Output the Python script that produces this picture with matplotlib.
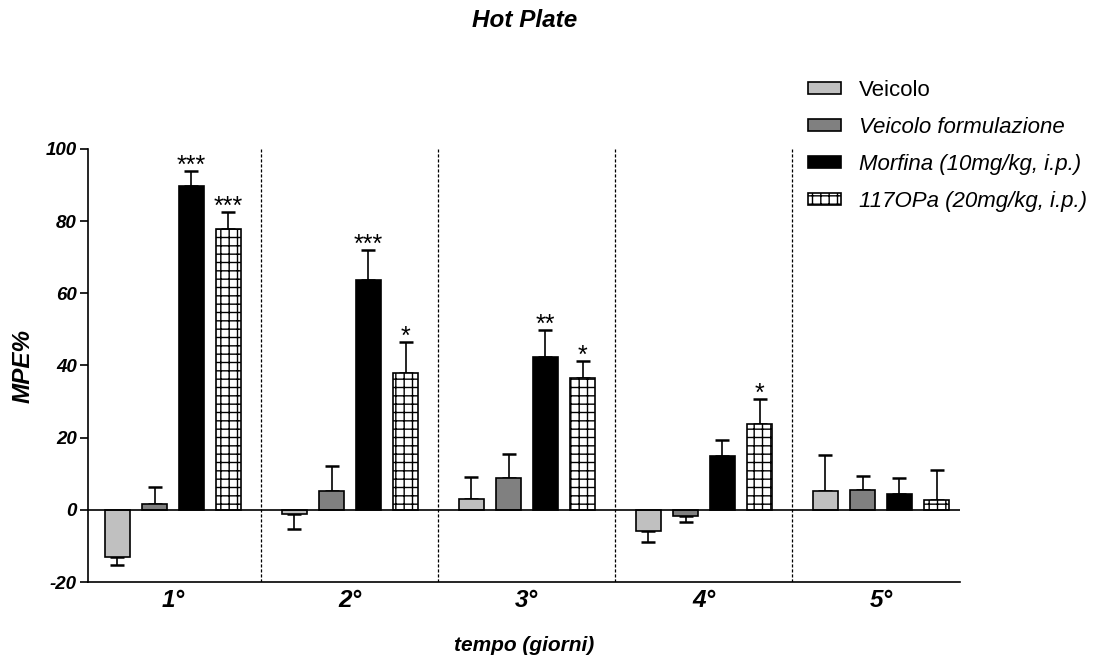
import matplotlib
matplotlib.use("Agg")
import matplotlib.pyplot as plt
import numpy as np

plt.rcParams['font.family'] = ['Liberation Sans', 'DejaVu Sans']
plt.rcParams['hatch.linewidth'] = 1.0
plt.rcParams['axes.unicode_minus'] = False

groups = ["1°", "2°", "3°", "4°", "5°"]
series = ["Veicolo", "Veicolo formulazione", "Morfina (10mg/kg, i.p.)", "117OPa (20mg/kg, i.p.)"]
veicolo = [-13.0, -1.1, 3.0, -6.0, 5.3]
veicolo_err = [2.3, 4.2, 6.2, 2.9, 9.8]
veicolo_form = [1.5, 5.3, 8.8, -1.7, 5.4]
veicolo_form_err = [4.7, 6.9, 6.7, 1.8, 3.9]
morfina = [89.7, 63.7, 42.4, 14.8, 4.3]
morfina_err = [4.2, 8.3, 7.5, 4.6, 4.4]
opa = [77.8, 37.8, 36.6, 23.7, 2.7]
opa_err = [4.8, 8.7, 4.7, 7.0, 8.4]
stars_morfina = ["***", "***", "**", "", ""]
stars_opa = ["***", "*", "*", "*", ""]

values = [veicolo, veicolo_form, morfina, opa]
errors = [veicolo_err, veicolo_form_err, morfina_err, opa_err]
stars = [[""] * 5, [""] * 5, stars_morfina, stars_opa]
colors = ["#c0c0c0", "#808080", "#000000", "#ffffff"]
hatches = [None, None, None, "++"]

fig = plt.figure(figsize=(10.94, 6.61), dpi=100)
ax = fig.add_axes([0.0804, 0.1195, 0.797, 0.6551])

x = np.arange(len(groups))
offsets = [-0.314, -0.104, 0.104, 0.314]
width = 0.141
handles = []
for i in range(4):
    v = np.array(values[i])
    e = np.array(errors[i])
    pos = x + offsets[i]
    b = ax.bar(pos, v, width, color=colors[i], edgecolor="black", linewidth=1.2,
               hatch=hatches[i], label=series[i], zorder=3)
    handles.append(b)
    lower = np.where(v < 0, e, 0)
    upper = np.where(v >= 0, e, 0)
    ax.errorbar(pos, v, yerr=[lower, upper], fmt="none", ecolor="black",
                elinewidth=1.2, capsize=4.7, capthick=1.8, zorder=2)
    for j in range(len(groups)):
        if stars[i][j]:
            ax.text(pos[j], v[j] + e[j] - 0.6, stars[i][j], ha="center", va="baseline",
                    fontsize=18, zorder=4)

ax.set_xlim(-0.48, 4.446)
ax.set_ylim(-20, 100)
ax.axhline(0, color="black", linewidth=1.2, zorder=4)
for k in range(4):
    ax.axvline(k + 0.5, color="black", linestyle=(0, (2.5, 1.5)), linewidth=0.9, zorder=1)

ax.spines["top"].set_visible(False)
ax.spines["right"].set_visible(False)
ax.spines["left"].set_linewidth(1.2)
ax.spines["bottom"].set_linewidth(1.2)
ax.set_yticks([-20, 0, 20, 40, 60, 80, 100])
ax.tick_params(axis="y", direction="out", length=6, width=1.2, labelsize=13.5, pad=2)
ax.tick_params(axis="x", length=0, labelsize=17.5, pad=5)
ax.set_xticks(x)
ax.set_xticklabels(groups)
for lab in ax.get_xticklabels() + ax.get_yticklabels():
    lab.set_fontweight("bold")
    lab.set_fontstyle("italic")

ax.set_ylabel("MPE%", fontsize=17.5, fontweight="bold", fontstyle="italic", labelpad=8)
ax.set_xlabel("tempo (giorni)", fontsize=15, fontweight="bold", fontstyle="italic", labelpad=17)
fig.text(0.480, 0.969, "Hot Plate", ha="center", va="center", fontsize=17.5,
         fontweight="bold", fontstyle="italic")

leg = fig.legend(handles=handles, labels=series, loc="upper left",
                 bbox_to_anchor=(0.7386, 0.879), frameon=False, fontsize=16,
                 handlelength=1.5, handleheight=0.5, labelspacing=0.72,
                 handletextpad=0.8, borderpad=0, borderaxespad=0)
for t in leg.get_texts()[1:]:
    t.set_fontstyle("italic")

fig.savefig("out.png", dpi=100)
